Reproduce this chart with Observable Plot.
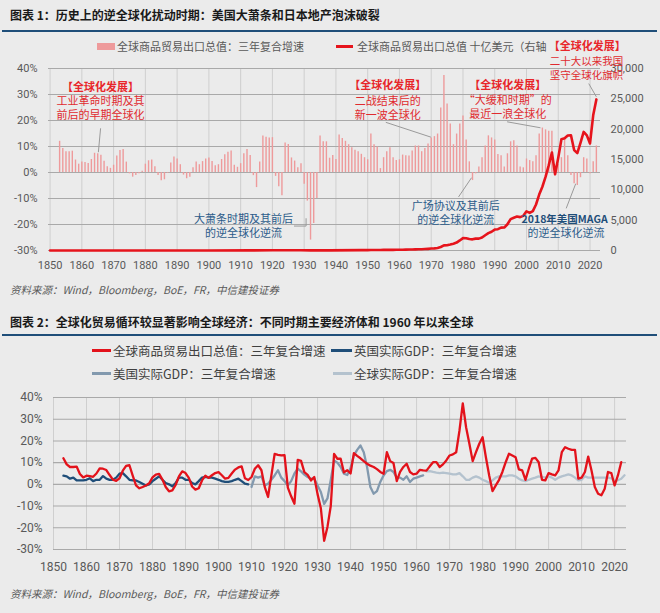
<!DOCTYPE html>
<html><head><meta charset="utf-8">
<script src="https://cdn.jsdelivr.net/npm/d3@7"></script>
<script src="https://cdn.jsdelivr.net/npm/@observablehq/plot@0.6"></script>
<style>
body{margin:0;background:#ebebeb;width:660px;height:613px;position:relative;overflow:hidden;font-family:"Noto Sans CJK SC",sans-serif;}
.abs{position:absolute;white-space:nowrap;}
.title{font-weight:bold;font-size:12px;line-height:12px;color:#1a1a1a;left:10px;}
.rule{position:absolute;left:2px;width:655px;height:2px;background:#1f4e79;}
.src{font-style:italic;font-size:10.5px;line-height:11px;color:#595959;left:10px;font-family:"Noto Sans CJK SC","DejaVu Serif",serif;}
.leg1{font-size:11px;line-height:11px;color:#595959;}
.leg2{font-size:12.5px;line-height:13px;color:#404040;}
.sw{position:absolute;}
svg{overflow:visible;}
#c1{position:absolute;left:0;top:36px;}
#c2{position:absolute;left:0;top:385px;}
</style></head><body>
<div class="abs title" style="top:9px">图表 1：历史上的逆全球化扰动时期：美国大萧条和日本地产泡沫破裂</div>
<div class="rule" style="top:30px"></div>
<div class="sw" style="left:97px;top:43px;width:18px;height:7px;background:#ee9a9b"></div>
<div class="abs leg1" style="left:117px;top:41px">全球商品贸易出口总值：三年复合增速</div>
<div class="sw" style="left:336px;top:45px;width:17px;height:2.5px;background:#e6141c"></div>
<div class="abs leg1" style="left:357px;top:41px">全球商品贸易出口总值 十亿美元（右轴</div>
<div id="c1"></div>
<div class="abs src" style="top:284px">资料来源：Wind，Bloomberg，BoE，FR，中信建投证券</div>
<div class="abs title" style="top:316px">图表 2：全球化贸易循环较显著影响全球经济：不同时期主要经济体和 1960 年以来全球</div>
<div class="rule" style="top:334px"></div>
<div class="sw" style="left:92px;top:349px;width:19px;height:2.5px;background:#e3121b"></div>
<div class="abs leg2" style="left:113px;top:344px">全球商品贸易出口总值：三年复合增速</div>
<div class="sw" style="left:331px;top:349px;width:21px;height:2.5px;background:#1f4e79"></div>
<div class="abs leg2" style="left:354px;top:344px">英国实际GDP：三年复合增速</div>
<div class="sw" style="left:92px;top:372px;width:19px;height:2.5px;background:#8299ae"></div>
<div class="abs leg2" style="left:113px;top:367px">美国实际GDP：三年复合增速</div>
<div class="sw" style="left:333px;top:372px;width:19px;height:2.5px;background:#b4c2ce"></div>
<div class="abs leg2" style="left:354px;top:367px">全球实际GDP：三年复合增速</div>
<div id="c2"></div>
<div class="abs src" style="top:588px">资料来源：Wind，Bloomberg，BoE，FR，中信建投证券</div>
<script>
// ---------- DATA ----------
// World merchandise exports: 3-year compound growth (%), 1853..2022
const tradeGrowthStart = 1853;
const tradeGrowth = [
 12, 9.2, 8, 8, 8.2, 4.8, 3.2, 4, 3.8, 3.5,
 5, 7.4, 7.2, 6.6, 4.3, 2.2, 1.6, 2.8, 6.3, 8.5,
 8.8, 4, -0.5, -1.8, -1.2, -0.5, 0.5, 3.2, 4.5, 4.8,
 2.2, -1.2, -3.2, -2.8, -0.3, 3.7, 6, 5.2, 3, -1,
 -2.4, -1.8, 1.8, 4, 3, 4.2, 5.2, 5.6, 4.2, 2.6,
 3, 5, 6.8, 7.8, 8.3, 2.8, 2, 3.4, 7.2, 8.8,
 6.5, -1.2, -5.8, 4, 14, 13.6, 13.3, 13.4, -1.5, -5.5,
 -8.9, 11.3, 10.8, 5.6, 4.4, 1.8, 3.4, -4.5, -11, -26,
 -19.6, -10, 14, 11.8, 11.8, 5.5, 6.5, 5, 14.4, 13.1,
 12, 10.7, 9.5, 8.6, 8, 7, 5.7, 4.9, 14.8, 10.7,
 9.8, 1.5, 5.7, 8, 9.5, 5.7, 4.6, 4.9, 6.7, 6.4,
 6.3, 8.3, 10.2, 10.2, 8, 9.2, 11, 13.3, 13.8, 14.8,
 24.8, 37.3, 26.3, 18.7, 10.7, 14.8, 18.7, 21.7, 12.5, 4.1,
 -3.1, -0.5, 2.1, 5.7, 10.2, 14.1, 13.3, 12.5, 6.9, 6.4,
 2.1, 7.2, 11.8, 12.2, 10.2, 2.1, 1.8, 5.2, 4.6, 4.1,
 6.4, 14.8, 17.1, 16.4, 15.9, 15.9, 2.6, 3.1, 5.7, 12.8,
 6.4, -1.2, -4.3, -5, -2, 5.7, 5.2, -0.5, 4.1, 10.2
];
// World merchandise exports, billion USD (right axis)
const exportYears = [1850,1860,1870,1880,1890,1900,1913,1920,1929,1932,1938,1948,1950,1951,1952,1953,1954,1955,1956,1957,1958,1959,
 1960,1961,1962,1963,1964,1965,1966,1967,1968,1969,1970,1971,1972,1973,1974,1975,1976,1977,1978,1979,
 1980,1981,1982,1983,1984,1985,1986,1987,1988,1989,1990,1991,1992,1993,1994,1995,1996,1997,1998,1999,
 2000,2001,2002,2003,2004,2005,2006,2007,2008,2009,2010,2011,2012,2013,2014,2015,2016,2017,2018,2019,
 2020,2021,2022];
const exportValues = [2,3.5,5,7,8,10,20,30,33,13,23,59,62,82,80,84,87,95,104,113,109,117,
 130,136,143,157,176,190,207,217,242,275,317,354,419,579,839,877,992,1129,1306,1659,
 2036,2011,1883,1838,1956,1954,2138,2516,2869,3098,3449,3515,3766,3782,4326,5168,5403,5592,5501,5712,
 6452,6191,6492,7586,9218,10509,12131,14023,16160,12555,15301,18338,18496,18950,19004,16557,16043,17742,19550,18978,
 17648,22284,24904];
// UK real GDP 3y CAGR (%), 1853..1909
const ukStart = 1853;
const ukGdp = [4.0,3.7,2.6,3.1,1.8,1.8,1.8,2.1,2.8,1.5,2.1,2.1,3.8,2.6,2.1,2.1,3.1,4.9,5.2,3.7,
 2.1,1.8,1.8,1.1,0.3,-0.5,0,1.5,2.6,3.7,2.1,0.6,0,-0.9,0.6,3.1,3.1,2.1,2.1,0.6,
 0,1.5,3.1,3.4,3.1,3.1,2.6,2.1,1.5,1.1,1.1,1.5,2.1,2.6,1.5,0.3,0];
// US real GDP 3y CAGR (%), 1910..1962
const usStart = 1910;
const usGdp = [-1.2,3.7,3.1,3.7,-0.5,0.3,2.1,4.1,6.5,3.1,
 1.5,-0.5,1.5,5,7.2,6,4.5,3.4,2.6,2.6,
 -0.5,-3.5,-9,-6.5,2,11,10,8,4.9,4.3,
 7.5,13.3,15.9,17.9,14.8,8,-1.2,-4.3,-3.1,1.1,
 4.1,6.1,6.7,5.7,3.1,3.1,2.1,3.7,1.1,2.6,
 3.1,3.7,4.1];
// World real GDP 3y CAGR (%), 1963..2023
const worldStart = 1963;
const worldGdp = [6.0,6.1,5.7,5.4,5.2,5.4,5.2,4.9,4.6,4.6,
 5.2,3.7,2.1,2.1,3.1,3.7,3.1,2.1,1.5,0.6,
 1.8,3.1,3.7,3.7,3.7,4.1,4.1,3.7,2.6,1.8,
 1.5,2.1,2.6,3.1,3.7,3.4,3.1,3.7,3.1,2.1,
 3.1,3.7,4.1,4.6,4.1,3.1,1.8,2.1,3.7,3.1,
 3.1,3.1,3.1,3.1,3.1,3.1,2.8,1.4,1.9,2.6,4.2];
// Ticks
const yearTicks = [1850,1860,1870,1880,1890,1900,1910,1920,1930,1940,1950,1960,1970,1980,1990,2000,2010,2020];
const pctTicks = [-30,-20,-10,0,10,20,30,40];
const rightTicks = [0,5000,10000,15000,20000,25000,30000];
// Annotations (chart 1)
const notes = [
 {year:1865.9, pct:32.8, text:"【全球化发展】", kind:"head"},
 {year:1865.9, pct:27.4, text:"工业革命时期及其", kind:"red"},
 {year:1865.9, pct:21.8, text:"前后的早期全球化", kind:"red"},
 {year:1956.3, pct:33.3, text:"【全球化发展】", kind:"head"},
 {year:1956.3, pct:27.5, text:"二战结束后的", kind:"red"},
 {year:1956.3, pct:22.0, text:"新一波全球化", kind:"red"},
 {year:1994.1, pct:33.3, text:"【全球化发展】", kind:"head"},
 {year:1994.1, pct:27.8, text:"“大缓和时期”的", kind:"red"},
 {year:1994.1, pct:22.4, text:"最近一浪全球化", kind:"red"},
 {year:2019.1, pct:48.6, text:"【全球化发展】", kind:"head"},
 {year:2018.9, pct:42.8, text:"二十大以来我国", kind:"redSmall"},
 {year:2018.9, pct:37.4, text:"坚守全球化旗帜", kind:"redSmall"},
 {year:1910.9, pct:-18.0, text:"大萧条时期及其前后", kind:"navy"},
 {year:1910.9, pct:-23.4, text:"的逆全球化逆流", kind:"navy"},
 {year:1977.7, pct:-13.2, text:"广场协议及其前后", kind:"navy"},
 {year:1977.7, pct:-18.6, text:"的逆全球化逆流", kind:"navy"},
 {year:2012.0, pct:-18.1, text:"2018年美国MAGA", kind:"navyBold"},
 {year:2012.4, pct:-23.3, text:"的逆全球化逆流", kind:"navy"}
];
const leaders = [
 {x1:1865.9, y1:17.0, x2:1865.2, y2:7.8},
 {x1:1926.8, y1:-20.6, x2:1930.6, y2:-20.6},
 {x1:1930.6, y1:-20.6, x2:1930.6, y2:-17.6},
 {x1:1955.7, y1:19.3, x2:1969.9, y2:13.6},
 {x1:1993.9, y1:19.5, x2:2004.4, y2:17.2},
 {x1:2019.6, y1:34.2, x2:2022.0, y2:29.1},
 {x1:1978.6, y1:-9.4, x2:1982.7, y2:-2.0},
 {x1:2012.5, y1:-13.8, x2:2015.5, y2:-4.3}
];

// ---------- BUILD ----------
const seq = (start, vals) => vals.map((v, i) => ({year: start + i, value: v}));
const bars = seq(tradeGrowthStart, tradeGrowth);
const exportsData = exportYears.map((y, i) => ({year: y, value: exportValues[i]}));
const toLeft = v => -30 + v * 70 / 30000;
const fromLeft = p => Math.round((p + 30) * 30000 / 70);
const cjk = "Noto Sans CJK SC, sans-serif";
const noteMark = (kind, fill, weight, size) => Plot.text(notes.filter(d => d.kind === kind),
  {x: "year", y: "pct", text: "text", fill, fontWeight: weight, fontSize: size, fontFamily: cjk});

const c1 = Plot.plot({
  width: 660, height: 244,
  marginTop: 32, marginBottom: 30, marginLeft: 48, marginRight: 60,
  style: {background: "transparent", overflow: "visible", fontFamily: "Roboto, sans-serif", fontSize: "11px", color: "#595959"},
  x: {domain: [1849.5, 2023.3]},
  y: {domain: [-30, 40]},
  marks: [
    Plot.gridX(yearTicks, {stroke: "#cfcfcf", strokeOpacity: 1}),
    Plot.gridY(pctTicks, {stroke: "#a9a9a9", strokeOpacity: 1, strokeWidth: 1.1}),
    Plot.ruleX(bars, {x: "year", y1: 0, y2: "value", stroke: "#ee9a9b", strokeWidth: 1.4}),
    Plot.lineY(exportsData, {x: "year", y: d => toLeft(d.value), stroke: "#e6141c", strokeWidth: 2.6}),
    Plot.link(leaders, {x1: "x1", y1: "y1", x2: "x2", y2: "y2", stroke: "#9a9a9a", strokeWidth: 1}),
    Plot.axisX(yearTicks, {tickSize: 0, tickPadding: 11, tickFormat: d => String(d), label: null, fontSize: 11}),
    Plot.axisY(pctTicks, {tickSize: 0, tickPadding: 11, tickFormat: d => d + "%", label: null, fontSize: 11}),
    Plot.axisY(rightTicks.map(toLeft), {anchor: "right", tickSize: 0, tickPadding: 10, tickFormat: d => d3.format(",")(fromLeft(d)), label: null, fontSize: 11}),
    noteMark("head", "#e8262a", "bold", 11),
    noteMark("red", "#e02a2f", "normal", 11),
    noteMark("redSmall", "#e02a2f", "normal", 10.5),
    noteMark("navy", "#2b5b8a", "normal", 11),
    noteMark("navyBold", "#1f4e79", "bold", 10.5)
  ]
});
document.getElementById("c1").appendChild(c1);

const c2 = Plot.plot({
  width: 660, height: 195,
  marginTop: 12, marginBottom: 31, marginLeft: 53, marginRight: 34,
  style: {background: "transparent", overflow: "visible", fontFamily: "Roboto, sans-serif", fontSize: "12px", color: "#595959"},
  x: {domain: [1850, 2023.6]},
  y: {domain: [-30, 40]},
  marks: [
    Plot.gridX(yearTicks, {stroke: "#cfcfcf", strokeOpacity: 1}),
    Plot.gridY(pctTicks, {stroke: "#a9a9a9", strokeOpacity: 1, strokeWidth: 1.1}),
    Plot.lineY(seq(worldStart, worldGdp), {x: "year", y: "value", stroke: "#b4c2ce", strokeWidth: 2.3}),
    Plot.lineY(seq(usStart, usGdp), {x: "year", y: "value", stroke: "#8299ae", strokeWidth: 2.3}),
    Plot.lineY(seq(ukStart, ukGdp), {x: "year", y: "value", stroke: "#1f4e79", strokeWidth: 2.3}),
    Plot.lineY(bars, {x: "year", y: "value", stroke: "#e3121b", strokeWidth: 2.3}),
    Plot.axisX(yearTicks, {tickSize: 0, tickPadding: 13, tickFormat: d => String(d), label: null, fontSize: 12}),
    Plot.axisY(pctTicks, {tickSize: 0, tickPadding: 11, tickFormat: d => d + "%", label: null, fontSize: 12})
  ]
});
document.getElementById("c2").appendChild(c2);
</script>
</body></html>
